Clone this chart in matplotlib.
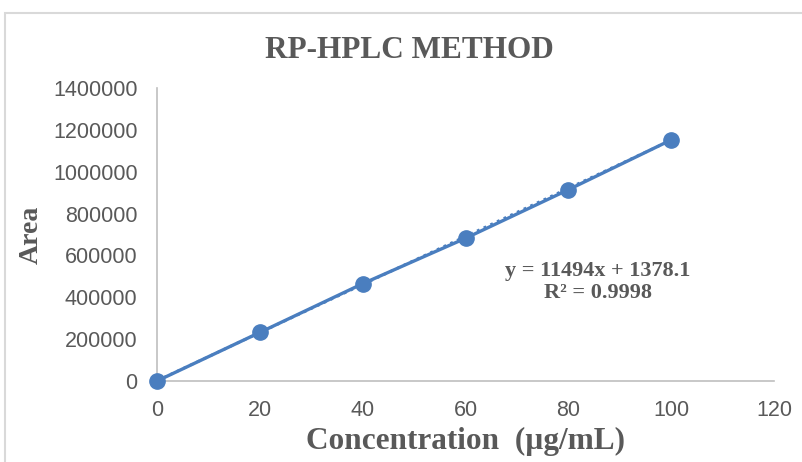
import matplotlib
matplotlib.use("Agg")
import matplotlib.pyplot as plt
from matplotlib.patches import Rectangle
import numpy as np

concentration = [0, 20, 40, 60, 80, 100]
area = [0, 232000, 465000, 682000, 914000, 1152000]
slope = 11494
intercept = 1378.1
r2 = 0.9998
x_ticks = [0, 20, 40, 60, 80, 100, 120]
y_ticks = [0, 200000, 400000, 600000, 800000, 1000000, 1200000, 1400000]

blue = "#4A7EBF"
gray = "#595959"

fig = plt.figure(figsize=(8.02, 4.62), dpi=100)
fig.patches.append(Rectangle((5/802, -0.1), 2, 1.1 - 13/462, transform=fig.transFigure,
                             facecolor="none", edgecolor="#D9D9D9", lw=1.5))
ax = fig.add_axes([157/802, 1 - 381/462, (774-157)/802, (381-88)/462])

xs = np.array([0, 100])
ax.plot(xs, slope*xs + intercept, linestyle=":", color=blue, lw=2, zorder=2)
ax.plot(concentration, area, color=blue, lw=2.4, marker="o", markersize=11,
        zorder=3, clip_on=False)

ax.set_xlim(0, 120)
ax.set_ylim(0, 1400000)
ax.set_xticks(x_ticks)
ax.set_yticks(y_ticks)
ax.set_xticklabels([str(v) for v in x_ticks])
ax.set_yticklabels([str(v) for v in y_ticks])
for s in ["top", "right"]:
    ax.spines[s].set_visible(False)
for s in ["left", "bottom"]:
    ax.spines[s].set_color("#BFBFBF")
    ax.spines[s].set_linewidth(1.2)
ax.tick_params(length=0, pad=14, labelsize=15.5, labelcolor=gray)
for lab in ax.get_xticklabels() + ax.get_yticklabels():
    lab.set_fontfamily("Liberation Sans")

serif = "Liberation Serif"
fig.text(409/802, 1 - 50/462, "RP-HPLC METHOD", ha="center", va="center",
         fontsize=22.5, fontweight="bold", family=serif, color=gray)
fig.text(31/802, 1 - 235/462, "Area", ha="center", va="center", rotation=90,
         fontsize=20, fontweight="bold", family=serif, color=gray)
fig.text(466/802, 1 - 441/462, "Concentration  (µg/mL)", ha="center", va="center",
         fontsize=22.5, fontweight="bold", family=serif, color=gray)
fig.text(598/802, 1 - 282/462, f"y = {slope}x + {intercept}\nR² = {r2}",
         ha="center", va="center", fontsize=16, fontweight="bold", family=serif,
         color=gray, linespacing=1.15)

fig.savefig("out.png", dpi=100)
